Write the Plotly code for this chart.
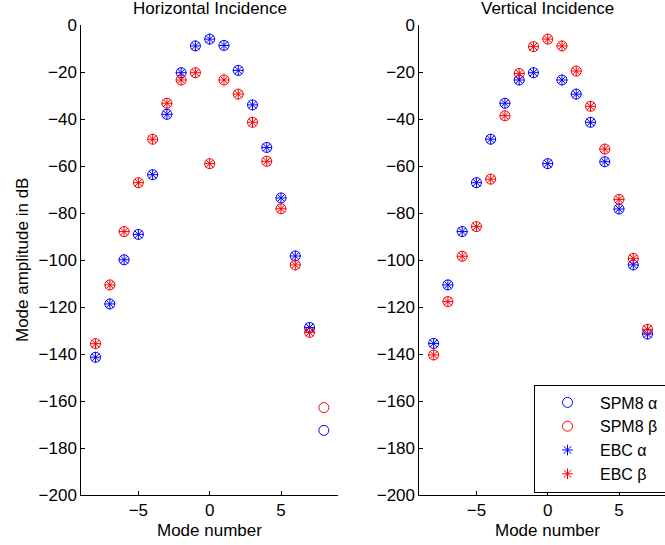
import plotly.graph_objects as go

# ---- data ----
modes_spm = list(range(-8, 9))
modes_ebc = list(range(-8, 8))

# Horizontal incidence
h_spm_alpha = [-141.4, -118.7, -99.9, -89.1, -63.7, -38.0, -20.3, -8.9, -6.0, -8.7, -19.3, -34.0, -52.1, -73.6, -98.3, -128.7, -172.5]
h_spm_beta = [-135.6, -110.6, -87.9, -67.1, -48.6, -33.3, -23.4, -20.3, -59.0, -23.4, -29.4, -41.4, -58.0, -78.2, -102.1, -130.8, -162.8]
h_ebc_alpha = h_spm_alpha[:-1]
h_ebc_beta = h_spm_beta[:-1]

# Vertical incidence
v_spm_alpha = [-135.5, -110.6, -87.9, -67.1, -48.6, -33.3, -23.4, -20.3, -59.0, -23.4, -29.4, -41.4, -58.2, -78.3, -102.1, -131.5, -162.8]
v_spm_beta = [-140.4, -117.7, -98.4, -85.8, -65.6, -38.6, -20.6, -9.2, -6.0, -8.9, -19.6, -34.6, -52.8, -74.2, -99.3, -129.5, -172.5]
v_ebc_alpha = v_spm_alpha[:-1]
v_ebc_beta = v_spm_beta[:-1]

titles = ["Horizontal Incidence", "Vertical Incidence"]
series_names = ["SPM8 α", "SPM8 β", "EBC α", "EBC β"]
y_ticks = list(range(-200, 1, 20))
x_ticks = [-5, 0, 5]

BLUE = "rgb(0,0,255)"
RED = "rgb(255,0,0)"
FONT = "Liberation Sans, Arial, sans-serif"
FS = 17
LFS = 16
PAD = "\u00a0"  # tiny invisible padding so the legend box runs off the right edge

W, H = 665, 545
fig = go.Figure()

panels = [
    ("x", "y", h_spm_alpha, h_spm_beta, h_ebc_alpha, h_ebc_beta, False),
    ("x2", "y2", v_spm_alpha, v_spm_beta, v_ebc_alpha, v_ebc_beta, True),
]
for xa, ya, sa, sb, ea, eb, show in panels:
    fig.add_trace(go.Scatter(x=modes_spm, y=sa, mode="markers", name=series_names[0] + PAD,
                             xaxis=xa, yaxis=ya, showlegend=show,
                             marker=dict(symbol="circle-open", size=10, color=BLUE, line=dict(width=1, color=BLUE))))
    fig.add_trace(go.Scatter(x=modes_spm, y=sb, mode="markers", name=series_names[1] + PAD,
                             xaxis=xa, yaxis=ya, showlegend=show,
                             marker=dict(symbol="circle-open", size=10, color=RED, line=dict(width=1, color=RED))))
    fig.add_trace(go.Scatter(x=modes_ebc, y=ea, mode="markers", name=series_names[2] + PAD,
                             xaxis=xa, yaxis=ya, showlegend=show,
                             marker=dict(symbol="asterisk-open", size=9, color=BLUE, line=dict(width=1, color=BLUE))))
    fig.add_trace(go.Scatter(x=modes_ebc, y=eb, mode="markers", name=series_names[3] + PAD,
                             xaxis=xa, yaxis=ya, showlegend=show,
                             marker=dict(symbol="asterisk-open", size=9, color=RED, line=dict(width=1, color=RED))))

axis_common = dict(showgrid=False, zeroline=False, showline=True, linecolor="black", linewidth=1,
                   ticks="inside", ticklen=4, tickcolor="black", tickwidth=1,
                   tickfont=dict(family=FONT, size=FS, color="black"))

top, bottom = 25, 495
plot_h = bottom - top

fig.update_layout(
    width=W, height=H,
    margin=dict(l=0, r=0, t=top, b=H - bottom, pad=0, autoexpand=False),
    paper_bgcolor="white", plot_bgcolor="white",
    font=dict(family=FONT, size=FS, color="black"),
    xaxis=dict(domain=[81.3 / W, 338.1 / W], range=[-9, 9], tickvals=x_ticks, anchor="y", **axis_common),
    yaxis=dict(domain=[0, 1], range=[-200, 0], tickvals=y_ticks, anchor="x", **axis_common),
    xaxis2=dict(domain=[419.4 / W, 1], range=[-9, (W - 547.7) / 14.26], tickvals=x_ticks, anchor="y2", **axis_common),
    yaxis2=dict(domain=[0, 1], range=[-200, 0], tickvals=y_ticks, anchor="x2", **axis_common),
    legend=dict(x=534 / W, y=(bottom - 384.5) / plot_h, xanchor="left", yanchor="top",
                bordercolor="black", borderwidth=1, bgcolor="white", itemwidth=55,
                font=dict(family=FONT, size=LFS, color="black"), tracegroupgap=0),
    showlegend=True,
)

def px_x(p):
    return p / W

def px_y(p):
    return (bottom - p) / plot_h

annotations = [
    dict(text=titles[0], x=px_x(209.7), y=px_y(8.6), xref="paper", yref="paper", showarrow=False,
         xanchor="center", yanchor="middle", font=dict(family=FONT, size=FS, color="black")),
    dict(text=titles[1], x=px_x(547.7), y=px_y(8.6), xref="paper", yref="paper", showarrow=False,
         xanchor="center", yanchor="middle", font=dict(family=FONT, size=FS, color="black")),
    dict(text="Mode number", x=px_x(209.7), y=px_y(530), xref="paper", yref="paper", showarrow=False,
         xanchor="center", yanchor="middle", font=dict(family=FONT, size=FS, color="black")),
    dict(text="Mode number", x=px_x(547.7), y=px_y(530), xref="paper", yref="paper", showarrow=False,
         xanchor="center", yanchor="middle", font=dict(family=FONT, size=FS, color="black")),
    dict(text="Mode amplitude in dB", x=px_x(22), y=px_y(260), xref="paper", yref="paper", showarrow=False,
         xanchor="center", yanchor="middle", textangle=-90, font=dict(family=FONT, size=FS, color="black")),
]
fig.update_layout(annotations=annotations)

fig.write_html("out.html")
